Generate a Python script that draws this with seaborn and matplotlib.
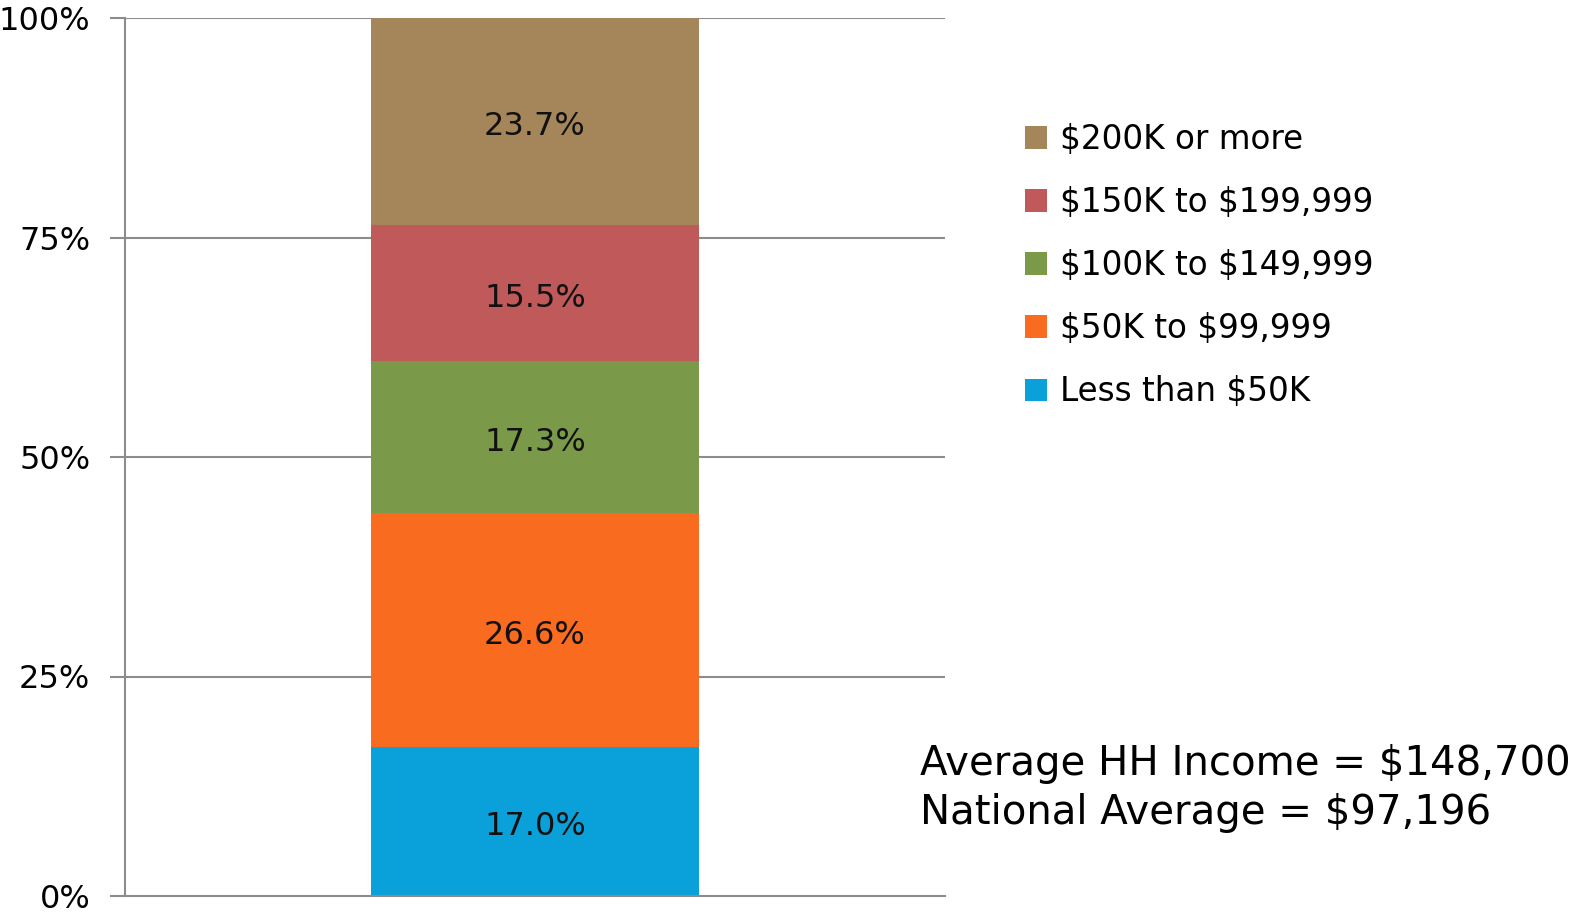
import matplotlib
matplotlib.use("Agg")
import matplotlib.pyplot as plt
import seaborn as sns
import pandas as pd
from matplotlib.patches import Patch

categories = ["Less than \\$50K", "\\$50K to \\$99,999", "\\$100K to \\$149,999",
              "\\$150K to \\$199,999", "\\$200K or more"]
values = [17.0, 26.6, 17.3, 15.5, 23.7]
colors = ["#0AA1DA", "#F96B1E", "#7A9A4A", "#C0595A", "#A5855A"]
y_ticks = [0, 25, 50, 75, 100]
y_tick_labels = ["0%", "25%", "50%", "75%", "100%"]
note_lines = ["Average HH Income = \\$148,700", "National Average = \\$97,196"]

sns.set_theme(style="white")
plt.rcParams["font.family"] = ["DejaVu Sans"]
plt.rcParams["text.color"] = "black"
plt.rcParams["ytick.labelcolor"] = "black"

fig = plt.figure(figsize=(15.72, 9.15), dpi=100)
ax = fig.add_axes([125 / 1572, 1 - 896 / 915, 820 / 1572, 878 / 915])

df = pd.DataFrame({"group": [""] * len(values), "category": categories, "value": values})

grid_c = "#8C8C8C"
for yv in y_ticks[1:]:
    ax.axhline(yv, color=grid_c, lw=1.5, zorder=0)

bottom = 0.0
for cat, val, col in zip(categories, values, colors):
    sub = df[df["category"] == cat]
    sns.barplot(data=sub, x="group", y="value", color=col, width=0.4,
                bottom=bottom, ax=ax, saturation=1, linewidth=0, zorder=2)
    ax.text(0, bottom + val / 2 - 0.6, f"{val:.1f}%", ha="center", va="center",
            fontsize=23, color="#111111", zorder=3)
    bottom += val

ax.set_xlim(-0.5, 0.5)
ax.set_ylim(0, 100)
ax.set_yticks(y_ticks)
ax.set_yticklabels(y_tick_labels, fontsize=23, color="black")
ax.set_xticks([])
ax.set_xlabel("")
ax.set_ylabel("")
ax.tick_params(axis="y", which="both", direction="out", length=11, width=1.5,
               color=grid_c, pad=14, left=True)
for s in ["top", "right"]:
    ax.spines[s].set_visible(False)
for s in ["left", "bottom"]:
    ax.spines[s].set_color(grid_c)
    ax.spines[s].set_linewidth(1.5)

handles = [Patch(facecolor=c, edgecolor="none") for c in colors][::-1]
labels = categories[::-1]
fig.legend(handles, labels, loc="upper left", bbox_to_anchor=(1012 / 1572, 1 - 110 / 915),
           frameon=False, fontsize=23.5, handlelength=0.68, handleheight=0.68,
           handletextpad=0.38, labelspacing=0.92, borderaxespad=0)

fig.text(920 / 1572, 1 - 764 / 915, note_lines[0], fontsize=29, va="center", ha="left")
fig.text(920 / 1572, 1 - 813 / 915, note_lines[1], fontsize=29, va="center", ha="left")

fig.savefig("out.png", dpi=100)
